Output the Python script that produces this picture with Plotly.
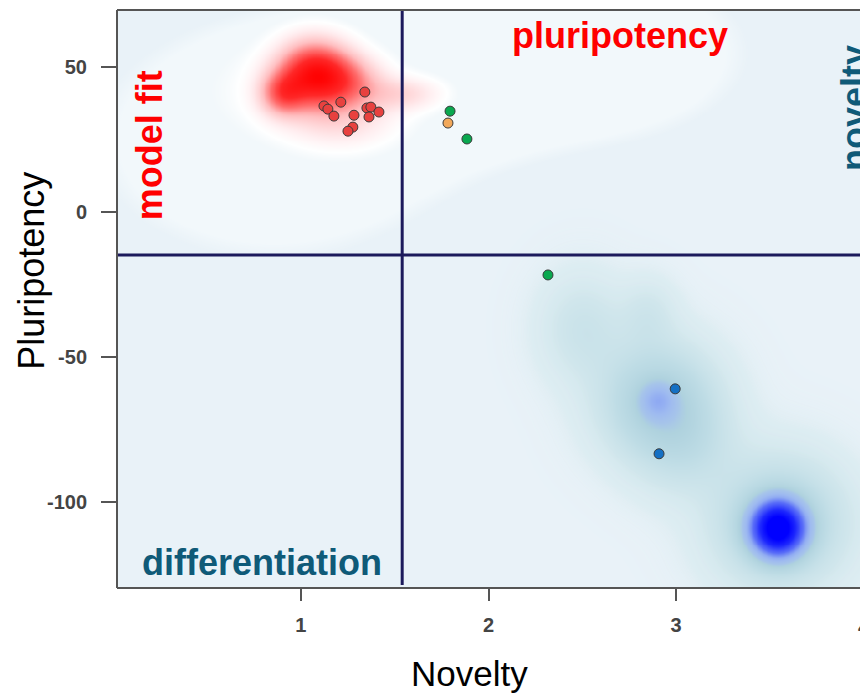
import numpy as np
import plotly.graph_objects as go

# ---- data ----
red_x = [1.341, 1.213, 1.123, 1.144, 1.176, 1.283, 1.352, 1.373, 1.416, 1.363, 1.277, 1.251]
red_y = [41.4, 37.9, 36.6, 35.5, 33.1, 33.4, 35.9, 36.2, 34.5, 32.8, 29.3, 27.9]
green_x = [1.795, 1.885, 2.317]
green_y = [34.8, 25.2, -21.7]
orange_x = [1.784]
orange_y = [30.7]
blue_x = [2.995, 2.909]
blue_y = [-61.0, -83.4]

# density components (centre x, centre y, spread x, spread y, weight)
red_dens_cx = [1.07, 0.90, 1.25, 1.55, 1.22, 1.00]
red_dens_cy = [48.0, 41.0, 45.0, 41.0, 32.0, 42.0]
red_dens_sx = [0.13, 0.08, 0.13, 0.14, 0.20, 0.30]
red_dens_sy = [7.5, 5.0, 6.0, 4.0, 7.0, 11.0]
red_dens_w = [1.0, 0.55, 0.4, 0.22, 0.2, 0.1]

halo_cx = [0.85, 2.55, 1.6]
halo_cy = [25.0, 55.0, 45.0]
halo_sx = [0.6, 0.55, 0.5]
halo_sy = [26.0, 20.0, 18.0]
halo_w = [1.0, 0.9, 0.8]

blue_dens_cx = [3.54, 3.55, 2.90, 2.90, 2.50, 2.85, 3.05]
blue_dens_cy = [-109.0, -107.0, -65.0, -65.0, -40.0, -35.0, -80.0]
blue_dens_sx = [0.09, 0.22, 0.2, 0.06, 0.15, 0.1, 0.18]
blue_dens_sy = [6.0, 14.0, 13.0, 4.0, 12.0, 8.0, 12.0]
blue_dens_w = [1.0, 0.2, 0.2, 0.14, 0.07, 0.05, 0.08]

x_ticks = [1, 2, 3, 4]
y_ticks = [50, 0, -50, -100]
x_range = [0.02, 3.98]
y_range = [-129.7, 69.7]
split_x = 1.54
split_y = -14.8

# ---- density grids ----
gx = np.linspace(x_range[0], x_range[1], 300)
gy = np.linspace(y_range[0], y_range[1], 300)
GX, GY = np.meshgrid(gx, gy)


def field(cx, cy, sx, sy, w):
    z = np.zeros_like(GX)
    for a, b, c, d, e in zip(cx, cy, sx, sy, w):
        z += e * np.exp(-0.5 * (((GX - a) / c) ** 2 + ((GY - b) / d) ** 2))
    return z


z_halo = field(halo_cx, halo_cy, halo_sx, halo_sy, halo_w)
z_red = field(red_dens_cx, red_dens_cy, red_dens_sx, red_dens_sy, red_dens_w)
z_blue = field(blue_dens_cx, blue_dens_cy, blue_dens_sx, blue_dens_sy, blue_dens_w)

fig = go.Figure()

fig.add_trace(go.Heatmap(
    x=gx, y=gy, z=z_halo, zmin=0, zmax=1, zsmooth="best", showscale=False, hoverinfo="skip",
    colorscale=[[0, "rgba(242,248,251,0)"], [0.28, "rgba(242,248,251,0)"],
                [0.4, "rgba(242,248,251,1)"], [1, "rgba(242,248,251,1)"]]))

fig.add_trace(go.Heatmap(
    x=gx, y=gy, z=z_red, zmin=0, zmax=1.3, zsmooth="best", showscale=False, hoverinfo="skip",
    colorscale=[[0, "rgba(255,255,255,0)"], [0.02, "rgba(255,255,255,0)"],
                [0.05, "rgba(255,255,255,0.9)"], [0.12, "rgb(255,238,240)"],
                [0.3, "rgb(255,190,192)"], [0.5, "rgb(255,110,110)"],
                [0.72, "rgb(255,40,40)"], [1, "rgb(255,0,0)"]]))

fig.add_trace(go.Heatmap(
    x=gx, y=gy, z=z_blue, zmin=0, zmax=1, zsmooth="best", showscale=False, hoverinfo="skip",
    colorscale=[[0, "rgba(222,237,242,0)"], [0.012, "rgba(220,236,241,0.9)"],
                [0.05, "rgb(208,230,236)"], [0.12, "rgb(190,220,229)"],
                [0.2, "rgb(175,210,222)"], [0.24, "rgb(166,196,234)"],
                [0.3, "rgb(158,186,240)"], [0.36, "rgb(145,172,242)"],
                [0.5, "rgb(90,110,248)"], [0.75, "rgb(30,40,253)"], [1, "rgb(0,0,255)"]]))

marker_line = dict(color="#3a3a3a", width=1)
fig.add_trace(go.Scatter(x=red_x, y=red_y, mode="markers", hoverinfo="skip",
                         marker=dict(size=10, color="#e8413f", line=marker_line)))
fig.add_trace(go.Scatter(x=green_x, y=green_y, mode="markers", hoverinfo="skip",
                         marker=dict(size=10, color="#0aa84f", line=marker_line)))
fig.add_trace(go.Scatter(x=orange_x, y=orange_y, mode="markers", hoverinfo="skip",
                         marker=dict(size=10, color="#f2a85a", line=marker_line)))
fig.add_trace(go.Scatter(x=blue_x, y=blue_y, mode="markers", hoverinfo="skip",
                         marker=dict(size=10, color="#1570c4", line=marker_line)))

line_col = "#1c1a5c"
fig.add_shape(type="line", xref="x", yref="paper", x0=split_x, x1=split_x, y0=0.005, y1=1,
              line=dict(color=line_col, width=3))
fig.add_shape(type="line", xref="paper", yref="y", x0=0, x1=1, y0=split_y, y1=split_y,
              line=dict(color=line_col, width=3))
# frame: left, top, bottom
border = dict(color="#555555", width=2)
fig.add_shape(type="line", xref="paper", yref="paper", x0=0, x1=0, y0=0, y1=1, line=border)
fig.add_shape(type="line", xref="paper", yref="paper", x0=0, x1=1, y0=1, y1=1, line=border)
fig.add_shape(type="line", xref="paper", yref="paper", x0=0, x1=1, y0=0, y1=0, line=border)

FONT = "Liberation Sans, Arial"
teal = "#0f5a78"
fig.add_annotation(text="<b>pluripotency</b>", x=2.70, y=61, xref="x", yref="y", showarrow=False,
                   font=dict(family=FONT, size=36, color="#ff0000"))
fig.add_annotation(text="<b>model fit</b>", x=0.19, y=23, xref="x", yref="y", showarrow=False,
                   textangle=-90, font=dict(family=FONT, size=36, color="#ff0000"))
fig.add_annotation(text="<b>differentiation</b>", x=0.795, y=-121, xref="x", yref="y", showarrow=False,
                   font=dict(family=FONT, size=36, color=teal))
fig.add_annotation(text="<b>novelty</b>", x=3.95, y=36, xref="x", yref="y", showarrow=False,
                   textangle=-90, font=dict(family=FONT, size=36, color=teal))

# axis titles
fig.add_annotation(text="Novelty", x=0.474, y=-0.148, xref="paper", yref="paper", showarrow=False,
                   yanchor="middle", font=dict(family=FONT, size=35, color="black"))
fig.add_annotation(text="Pluripotency", x=-0.115, y=0.548, xref="paper", yref="paper", showarrow=False,
                   textangle=-90, xanchor="center", font=dict(family=FONT, size=36, color="black"))

tick_font = dict(family=FONT, size=20, color="#444444")
# last x tick label sits past the cropped right edge
last_x_paper = (x_ticks[-1] - x_range[0]) / (x_range[1] - x_range[0])
fig.add_annotation(text=f"<b>{x_ticks[-1]}</b>", x=last_x_paper, y=-0.0675, xref="paper", yref="paper",
                   showarrow=False, xanchor="center", yanchor="middle", font=tick_font)

fig.update_layout(
    width=860, height=694,
    margin=dict(l=117, r=0, t=10, b=106),
    paper_bgcolor="white",
    plot_bgcolor="#e9f2f8",
    showlegend=False,
    xaxis=dict(range=x_range, tickvals=x_ticks, ticktext=[f"<b>{v}</b>" for v in x_ticks],
               showgrid=False, zeroline=False, showline=False,
               ticks="outside", ticklen=12, tickwidth=2, tickcolor="#555555",
               tickfont=tick_font, ticklabelstandoff=7),
    yaxis=dict(range=y_range, tickvals=y_ticks, ticktext=[f"<b>{v}</b>" for v in y_ticks],
               showgrid=False, zeroline=False, showline=False,
               ticks="outside", ticklen=15, tickwidth=2, tickcolor="#555555",
               tickfont=tick_font, ticklabelstandoff=10),
)

fig.write_html("out.html")
